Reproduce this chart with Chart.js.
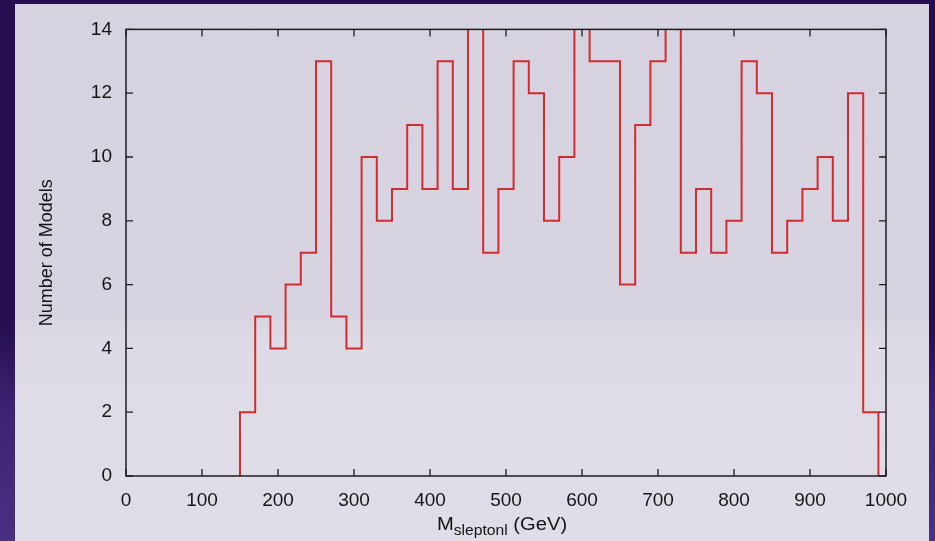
<!DOCTYPE html>
<html>
<head>
<meta charset="utf-8">
<script src="https://cdn.jsdelivr.net/npm/chart.js@4"></script>
<style>
  html, body { margin: 0; padding: 0; }
  body {
    width: 935px; height: 541px; overflow: hidden; position: relative;
    background: linear-gradient(180deg, #260e50 0%, #260e50 60%, #3c2272 75%, #4a3082 100%);
  }
  #panel {
    position: absolute; left: 15px; top: 4px; width: 914px; height: 537px;
    background: linear-gradient(180deg, #d6d2df 0%, #d7d3e0 58%, #dedbe6 62%, #e0dde8 100%);
  }
  canvas { display: block; }
</style>
</head>
<body>
<div id="panel"><canvas id="histChart" width="914" height="537"></canvas></div>
<script>
// bin edges (GeV) and number of models per bin
const binEdges = [150, 170, 190, 210, 230, 250, 270, 290, 310, 330, 350, 370, 390, 410, 430, 450,
    470, 490, 510, 530, 550, 570, 590, 610, 630, 650, 670, 690, 710, 730, 750, 770, 790, 810,
    830, 850, 870, 890, 910, 930, 950, 970, 990];
const counts = [2, 5, 4, 6, 7, 13, 5, 4, 10, 8, 9, 11, 9, 13, 9, 15,
    7, 9, 13, 12, 8, 10, 15, 13, 13, 6, 11, 13, 15, 7, 9, 7, 8, 13,
    12, 7, 8, 9, 10, 8, 12, 2];
const xTicks = [0, 100, 200, 300, 400, 500, 600, 700, 800, 900, 1000];
const yTicks = [0, 2, 4, 6, 8, 10, 12, 14];

// step points: start at zero, one point per bin, back to zero at last edge
let points = [{ x: binEdges[0], y: 0 }];
counts.forEach((c, i) => points.push({ x: binEdges[i], y: c }));
points.push({ x: binEdges[binEdges.length - 1], y: 0 });

const frameTicks = {
    id: 'frameTicks',
    afterDatasetsDraw(chart) {
        const ctx = chart.ctx;
        const a = chart.chartArea;
        const xs = chart.scales.x, ys = chart.scales.y;
        ctx.save();
        ctx.strokeStyle = '#1e1e22';
        ctx.lineWidth = 1.5;
        ctx.strokeRect(a.left, a.top, a.right - a.left, a.bottom - a.top);
        ctx.lineWidth = 1.3;
        ctx.beginPath();
        xTicks.forEach(v => {
            let px = xs.getPixelForValue(v);
            ctx.moveTo(px, a.bottom); ctx.lineTo(px, a.bottom - 7);
            ctx.moveTo(px, a.top); ctx.lineTo(px, a.top + 7);
        });
        yTicks.forEach(v => {
            let py = ys.getPixelForValue(v);
            ctx.moveTo(a.left, py); ctx.lineTo(a.left + 7, py);
            ctx.moveTo(a.right, py); ctx.lineTo(a.right - 7, py);
        });
        ctx.stroke();

        // axis titles
        ctx.fillStyle = '#151515';
        ctx.textBaseline = 'alphabetic';
        // x title with subscript
        const main = '18px "Liberation Sans", Arial, sans-serif';
        const sub = '14px "Liberation Sans", Arial, sans-serif';
        ctx.font = main; let wM = ctx.measureText('M').width;
        let wR = ctx.measureText(' (GeV)').width;
        ctx.font = sub; let wS = ctx.measureText('sleptonl').width;
        const sx = 1.12;
        let total = (wM + wS + wR) * sx;
        let cx = (a.left + a.right) / 2 - 4;
        ctx.save();
        ctx.translate(cx - total / 2, 526);
        ctx.scale(sx, 1);
        ctx.font = main; ctx.textAlign = 'left';
        ctx.fillText('M', 0, 0);
        ctx.font = sub; ctx.fillText('sleptonl', wM, 5);
        ctx.font = main; ctx.fillText(' (GeV)', wM + wS, 0);
        ctx.restore();

        // y title
        ctx.save();
        ctx.translate(32, (a.top + a.bottom) / 2);
        ctx.rotate(-Math.PI / 2);
        ctx.font = '18px "Liberation Sans", Arial, sans-serif';
        ctx.textAlign = 'center';
        ctx.textBaseline = 'middle';
        ctx.fillText('Number of Models', 0, 0);
        ctx.restore();
        ctx.restore();
    }
};

const ctx = document.getElementById('histChart').getContext('2d');
new Chart(ctx, {
    type: 'line',
    data: {
        datasets: [{
            data: points,
            stepped: 'before',
            borderColor: '#d42b2e',
            borderWidth: 2,
            pointRadius: 0,
            fill: false,
            clip: { top: 0, left: 3, right: 3, bottom: 3 }
        }]
    },
    options: {
        responsive: false,
        animation: false,
        layout: { padding: { left: 0, top: 16, right: 43, bottom: 0 } },
        plugins: { legend: { display: false }, tooltip: { enabled: false } },
        scales: {
            x: {
                type: 'linear', min: 0, max: 1000,
                afterBuildTicks: (s) => { s.ticks = xTicks.map(v => ({ value: v })); },
                afterFit: (s) => { s.height = 65; },
                grid: { display: false, drawTicks: false },
                border: { display: false },
                ticks: {
                    padding: 13, color: '#151515', maxRotation: 0, autoSkip: false,
                    callback: (v) => String(v),
                    font: { family: '"Liberation Sans", Arial, sans-serif', size: 19 }
                }
            },
            y: {
                type: 'linear', min: 0, max: 14,
                afterBuildTicks: (s) => { s.ticks = yTicks.map(v => ({ value: v })); },
                afterFit: (s) => { s.width = 111; },
                grid: { display: false, drawTicks: false },
                border: { display: false },
                ticks: {
                    padding: 14, color: '#151515', autoSkip: false,
                    callback: (v) => String(v),
                    font: { family: '"Liberation Sans", Arial, sans-serif', size: 19 }
                }
            }
        }
    },
    plugins: [frameTicks]
});
</script>
</body>
</html>
